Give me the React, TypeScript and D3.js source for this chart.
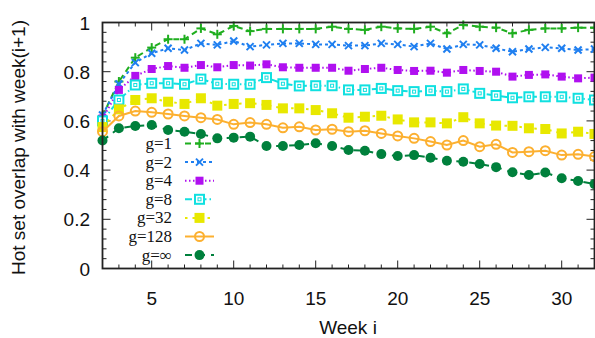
import React from "react";
import * as d3 from "d3";

const weeks = d3.range(2, 33);
const seriesNames = ["g=1", "g=2", "g=4", "g=8", "g=32", "g=128", "g=\u221e"];
const g1 = [0.62, 0.76, 0.857, 0.898, 0.932, 0.932, 0.976, 0.952, 0.986, 0.965, 0.974, 0.974, 0.974, 0.974, 0.983, 0.974, 0.97, 0.983, 0.976, 0.974, 0.983, 0.956, 0.99, 0.983, 0.979, 0.956, 0.97, 0.976, 0.976, 0.979, 0.979];
const g2 = [0.624, 0.75, 0.837, 0.875, 0.895, 0.888, 0.915, 0.909, 0.925, 0.902, 0.909, 0.915, 0.915, 0.911, 0.911, 0.906, 0.906, 0.915, 0.911, 0.902, 0.915, 0.892, 0.911, 0.909, 0.895, 0.881, 0.892, 0.899, 0.895, 0.888, 0.892];
const g4 = [0.61, 0.726, 0.783, 0.811, 0.823, 0.816, 0.827, 0.818, 0.827, 0.825, 0.83, 0.818, 0.816, 0.816, 0.816, 0.804, 0.811, 0.816, 0.807, 0.803, 0.804, 0.796, 0.807, 0.803, 0.8, 0.78, 0.787, 0.789, 0.78, 0.773, 0.776];
const g8 = [0.6, 0.685, 0.746, 0.753, 0.753, 0.749, 0.77, 0.751, 0.749, 0.749, 0.776, 0.751, 0.742, 0.743, 0.743, 0.726, 0.726, 0.732, 0.723, 0.719, 0.723, 0.719, 0.73, 0.712, 0.703, 0.694, 0.698, 0.698, 0.698, 0.692, 0.685];
const g32 = [0.575, 0.647, 0.685, 0.692, 0.678, 0.669, 0.692, 0.662, 0.669, 0.672, 0.665, 0.651, 0.651, 0.644, 0.631, 0.613, 0.617, 0.621, 0.606, 0.594, 0.594, 0.59, 0.615, 0.59, 0.581, 0.58, 0.57, 0.567, 0.549, 0.556, 0.547];
const g128 = [0.556, 0.62, 0.64, 0.635, 0.628, 0.62, 0.613, 0.606, 0.586, 0.593, 0.586, 0.572, 0.576, 0.563, 0.566, 0.556, 0.56, 0.549, 0.539, 0.529, 0.516, 0.502, 0.52, 0.495, 0.505, 0.472, 0.475, 0.479, 0.461, 0.464, 0.455];
const gInf = [0.52, 0.57, 0.579, 0.583, 0.563, 0.556, 0.547, 0.529, 0.532, 0.536, 0.498, 0.498, 0.502, 0.509, 0.498, 0.482, 0.479, 0.465, 0.457, 0.461, 0.45, 0.438, 0.434, 0.425, 0.412, 0.391, 0.38, 0.39, 0.367, 0.356, 0.343];
const xTicks = [5, 10, 15, 20, 25, 30];
const yTicks = [0, 0.2, 0.4, 0.6, 0.8, 1];

const allValues = [g1, g2, g4, g8, g32, g128, gInf];

const styles = [
  { color: "#1fae1f", dash: "6,4", marker: "plus" },
  { color: "#1f7ff0", dash: "3,3", marker: "cross" },
  { color: "#b010f0", dash: "1.5,2.5", marker: "fsquare" },
  { color: "#10e0e0", dash: "7,3,1.5,3", marker: "osquare" },
  { color: "#e8e800", dash: "2.5,5", marker: "bsquare" },
  { color: "#fcb030", dash: "", marker: "ocircle" },
  { color: "#00803c", dash: "7,6", marker: "fcircle" },
];

function Marker({ type, x, y, color }: { type: string; x: number; y: number; color: string }) {
  switch (type) {
    case "plus":
      return (
        <g stroke={color} strokeWidth={2}>
          <line x1={x - 4.5} y1={y} x2={x + 4.5} y2={y} />
          <line x1={x} y1={y - 4.5} x2={x} y2={y + 4.5} />
        </g>
      );
    case "cross":
      return (
        <g stroke={color} strokeWidth={2}>
          <line x1={x - 3.5} y1={y - 3.5} x2={x + 3.5} y2={y + 3.5} />
          <line x1={x - 3.5} y1={y + 3.5} x2={x + 3.5} y2={y - 3.5} />
        </g>
      );
    case "fsquare":
      return <rect x={x - 4} y={y - 4} width={8} height={8} fill={color} />;
    case "bsquare":
      return <rect x={x - 5} y={y - 5} width={10} height={10} fill={color} />;
    case "osquare":
      return (
        <g>
          <rect x={x - 4.5} y={y - 4.5} width={9} height={9} fill="white" stroke={color} strokeWidth={2} />
          <rect x={x - 1.5} y={y - 1.5} width={3} height={3} fill="none" stroke={color} strokeWidth={1} />
        </g>
      );
    case "ocircle":
      return <circle cx={x} cy={y} r={4.5} fill="none" stroke={color} strokeWidth={2} />;
    case "fcircle":
      return <circle cx={x} cy={y} r={5} fill={color} />;
  }
  return null;
}

export default function App() {
  const W = 595;
  const H = 338;
  const left = 102.5;
  const right = 594.5;
  const top = 22.5;
  const bottom = 268.5;
  const x = d3.scaleLinear().domain([2, 32]).range([left, right]);
  const y = d3.scaleLinear().domain([0, 1]).range([bottom, top]);
  const line = d3
    .line<number>()
    .x((_, i) => x(weeks[i]))
    .y((d) => y(d));

  const minorX = d3.range(2, 33);
  const minorY = d3.range(0, 1.0001, 0.04);
  const axisColor = "#222";
  const sans = "'Liberation Sans', Arial, sans-serif";
  const serif = "'Liberation Serif', 'Times New Roman', serif";

  const legendY0 = 143.5;
  const legendStep = 18.6;

  return (
    <div style={{ position: "absolute", left: 0, top: 0 }}>
      <svg width={W} height={H} style={{ display: "block", background: "white" }}>
        {/* ticks */}
        <g stroke={axisColor} strokeWidth={1}>
          {minorX.map((w) => {
            const len = w % 5 === 0 ? 8 : 4;
            return (
              <g key={"xt" + w}>
                <line x1={x(w)} x2={x(w)} y1={bottom} y2={bottom - len} />
                <line x1={x(w)} x2={x(w)} y1={top} y2={top + len} />
              </g>
            );
          })}
          {minorY.map((v, i) => {
            const len = i % 5 === 0 ? 8 : 4;
            return (
              <g key={"yt" + i}>
                <line x1={left} x2={left + len} y1={y(v)} y2={y(v)} />
                <line x1={right} x2={right - len} y1={y(v)} y2={y(v)} />
              </g>
            );
          })}
        </g>
        {/* series */}
        {allValues.map((vals, si) => (
          <g key={"s" + si}>
            <path
              d={line(vals) || ""}
              fill="none"
              stroke={styles[si].color}
              strokeWidth={2}
              strokeDasharray={styles[si].dash || undefined}
            />
            {vals.map((v, i) => (
              <Marker key={i} type={styles[si].marker} x={x(weeks[i])} y={y(v)} color={styles[si].color} />
            ))}
          </g>
        ))}
        {/* frame */}
        <rect x={left} y={top} width={right - left} height={bottom - top} fill="none" stroke={axisColor} strokeWidth={1.8} />
        {/* tick labels */}
        <g fontFamily={sans} fontSize={19} fill="#111">
          {xTicks.map((t) => (
            <text key={"xl" + t} x={x(t)} y={305} textAnchor="middle">
              {t}
            </text>
          ))}
          {yTicks.map((t) => (
            <text key={"yl" + t} x={90} y={y(t) + 7} textAnchor="end">
              {t === 0 || t === 1 ? String(t) : t.toFixed(1)}
            </text>
          ))}
          <text x={348} y={334} textAnchor="middle">
            Week i
          </text>
          <text transform={`translate(25,${(top + bottom) / 2 + 2}) rotate(-90)`} textAnchor="middle">
            Hot set overlap with week(i+1)
          </text>
        </g>
        {/* legend */}
        {seriesNames.map((name, i) => {
          const ly = legendY0 + i * legendStep;
          const st = styles[i];
          return (
            <g key={"lg" + i}>
              <text x={172} y={ly + 5.5} textAnchor="end" fontFamily={serif} fontSize={17} fill="#111">
                {name}
              </text>
              <line
                x1={185}
                x2={214}
                y1={ly}
                y2={ly}
                stroke={st.color}
                strokeWidth={2}
                strokeDasharray={st.dash || undefined}
              />
              <Marker type={st.marker} x={199.5} y={ly} color={st.color} />
            </g>
          );
        })}
      </svg>
    </div>
  );
}
